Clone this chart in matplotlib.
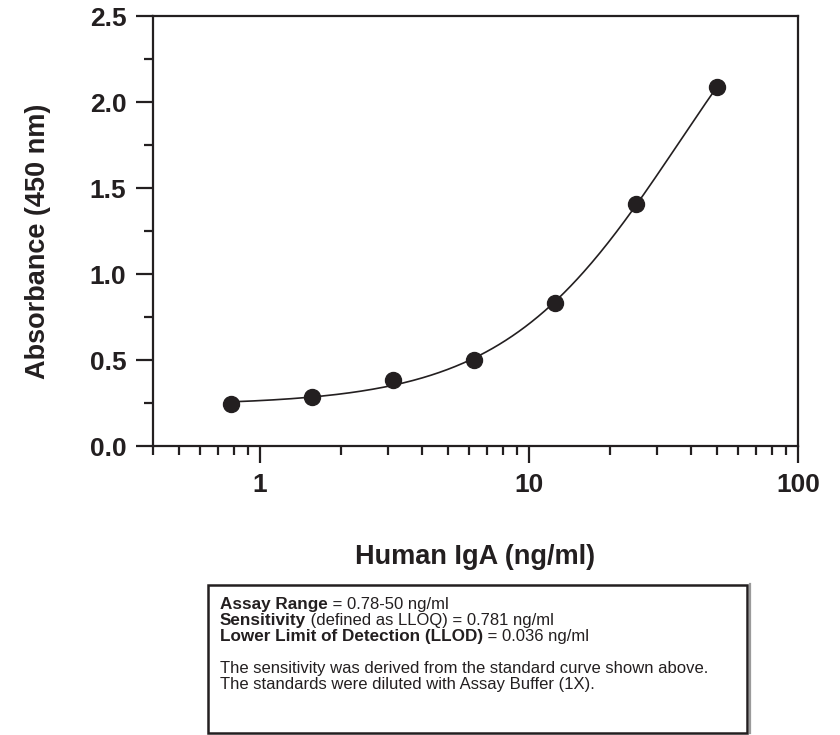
import numpy as np
from matplotlib import pyplot as plt
from matplotlib.patches import Rectangle
from matplotlib.ticker import MultipleLocator, LogLocator, NullFormatter, FixedLocator

plt.rcParams['font.family'] = ['Liberation Sans', 'DejaVu Sans']

conc = [0.78, 1.5625, 3.125, 6.25, 12.5, 25, 50]
absorbance = [0.244, 0.285, 0.384, 0.50, 0.83, 1.41, 2.087]

x_ticks = [1, 10, 100]
x_tick_labels = ["1", "10", "100"]
y_ticks = [0.0, 0.5, 1.0, 1.5, 2.0, 2.5]

ink = "#231f20"


def fit_4pl(x, y):
    # crude 4-parameter logistic fit: grid over slope/midpoint, linear solve for asymptotes
    x = np.asarray(x, float)
    y = np.asarray(y, float)
    best = None
    for b in np.linspace(0.5, 3.0, 126):
        for logc in np.linspace(0, 4, 201):
            g = 1.0 / (1.0 + (x / 10 ** logc) ** b)
            A = np.column_stack([g, 1 - g])
            p, *_ = np.linalg.lstsq(A, y, rcond=None)
            err = np.sum((A @ p - y) ** 2)
            if best is None or err < best[0]:
                best = (err, p[0], b, 10 ** logc, p[1])
    _, a, b, c, d = best
    return lambda t: d + (a - d) / (1.0 + (t / c) ** b)


fig = plt.figure(figsize=(8.4, 7.35), dpi=100)
ax = fig.add_axes([0.182, 0.393, 0.768, 0.585])

curve = fit_4pl(conc, absorbance)
xs = np.logspace(np.log10(conc[0]), np.log10(conc[-1]), 300)
ax.plot(xs, curve(xs), color=ink, lw=1.2, zorder=2)
ax.plot(conc, absorbance, 'o', color=ink, ms=11.5, zorder=3)

ax.set_xscale('log')
ax.set_xlim(0.4, 100)
ax.set_ylim(0, 2.5)
ax.xaxis.set_major_locator(FixedLocator(x_ticks))
ax.set_xticklabels(x_tick_labels)
ax.xaxis.set_minor_locator(LogLocator(base=10, subs=np.arange(2, 10)))
ax.xaxis.set_minor_formatter(NullFormatter())
ax.yaxis.set_major_locator(FixedLocator(y_ticks))
ax.set_yticklabels(["%.1f" % v for v in y_ticks])
ax.yaxis.set_minor_locator(MultipleLocator(0.25))

for s in ax.spines.values():
    s.set_linewidth(1.6)
    s.set_color(ink)
ax.tick_params(which='major', length=12, width=1.6, color=ink, direction='out',
               labelsize=19, pad=7)
ax.tick_params(which='minor', length=6.5, width=1.6, color=ink, direction='out')
for lab in ax.get_xticklabels() + ax.get_yticklabels():
    lab.set_fontweight('bold')
    lab.set_color(ink)

ax.set_ylabel("Absorbance (450 nm)", fontsize=19.5, fontweight='bold', color=ink)
ax.yaxis.set_label_coords(-0.158, 0.477)
ax.set_xlabel("Human IgA (ng/ml)", fontsize=19.5, fontweight='bold', color=ink)
ax.xaxis.set_label_coords(0.5, -0.228)

# info box
bx0, by0, bx1, by1 = 208 / 840, 1 - 733 / 735, 747 / 840, 1 - 585 / 735
fig.patches.append(Rectangle((bx0, by0), bx1 - bx0, by1 - by0, transform=fig.transFigure,
                             fill=False, ec=ink, lw=1.8))
fig.lines.append(plt.Line2D([bx1 + 0.0035, bx1 + 0.0035], [by0, by1 + 0.001],
                            transform=fig.transFigure, color="#9a9a9a", lw=1.6))

lines = [
    ("Assay Range", " = 0.78-50 ng/ml"),
    ("Sensitivity", " (defined as LLOQ) = 0.781 ng/ml"),
    ("Lower Limit of Detection (LLOD)", " = 0.036 ng/ml"),
    (None, None),
    ("", "The sensitivity was derived from the standard curve shown above."),
    ("", "The standards were diluted with Assay Buffer (1X)."),
]
renderer = fig.canvas.get_renderer()
tx = 220 / 840
ty = 1 - 609 / 735
dy = 16 / 735
for bold, rest in lines:
    if bold is None:
        ty -= dy
        continue
    t = fig.text(tx, ty, bold, fontsize=12.3, fontweight='bold', color=ink, va='baseline')
    w = t.get_window_extent(renderer).width / fig.bbox.width if bold else 0
    fig.text(tx + w, ty, rest, fontsize=12, color=ink, va='baseline')
    ty -= dy

plt.savefig("out.png", dpi=100)
